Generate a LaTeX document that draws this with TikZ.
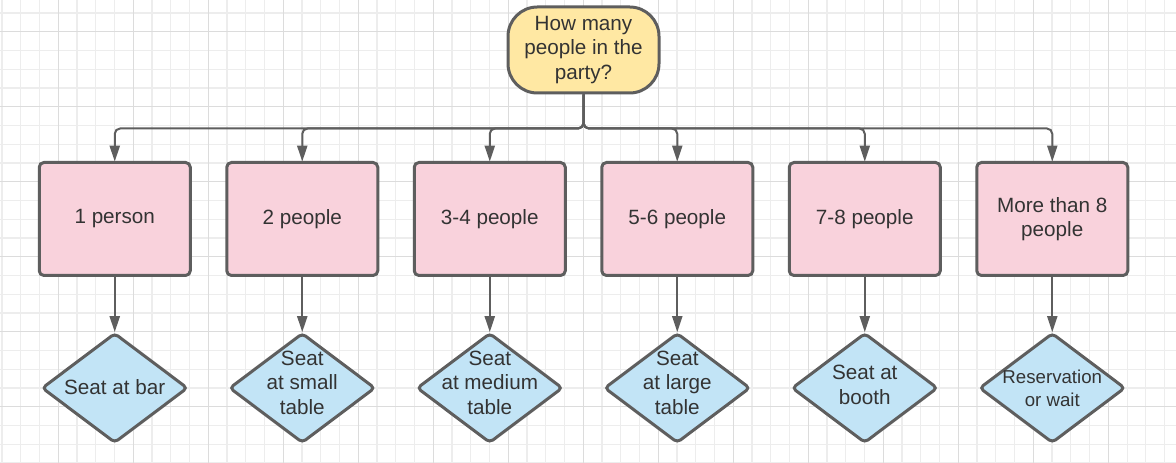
\documentclass[tikz,border=0pt]{standalone}
\usepackage{fontspec}
\setmainfont{Liberation Sans}
\usetikzlibrary{shapes.geometric,arrows.meta}
\definecolor{linegray}{HTML}{5E5E5E}
\definecolor{textgray}{HTML}{333333}
\definecolor{askfill}{HTML}{FFE8A3}
\definecolor{groupfill}{HTML}{F9D2DC}
\definecolor{seatfill}{HTML}{C2E4F6}
\definecolor{gridminor}{HTML}{EDEDED}
\definecolor{gridmajor}{HTML}{DCDCDC}
\begin{document}
\begin{tikzpicture}[x=0.75pt,y=0.75pt,
        font=\fontsize{15.5}{18.5}\selectfont,
        ask/.style={rectangle,draw=linegray,line width=2.25pt,fill=askfill,text=textgray,align=center,
            rounded corners=22pt,minimum width=113.25pt,minimum height=64.5pt,inner sep=0pt},
        group/.style={rectangle,draw=linegray,line width=2.25pt,fill=groupfill,text=textgray,align=center,
            rounded corners=3.5pt,minimum width=113.25pt,minimum height=84.75pt,inner sep=0pt},
        seat/.style={diamond,draw=linegray,line width=2.25pt,fill=seatfill,
            rounded corners=3pt,minimum width=109.5pt,minimum height=82.5pt,inner sep=0pt},
        seattext/.style={text=textgray,align=center,inner sep=0pt},
        level distance=126.75pt,
        level 1/.style={sibling distance=140.625pt,
            edge from parent path={(\tikzparentnode.south) -- ++(0,-25.5pt) -| (\tikzchildnode.north)}},
        level 2/.style={edge from parent path={(\tikzparentnode.south) -- (\tikzchildnode.north)}},
        edge from parent/.style={draw=linegray,line width=1.5pt,rounded corners=4pt,shorten >=-0.5pt,
            -{Triangle[length=12pt,width=7.5pt]}}]
        \useasboundingbox (0,0) rectangle (1176,463);
        % grid paper
        \begin{scope}
        \clip (0,0) rectangle (1176,463);
        \fill[white] (0,0) rectangle (1176,463);
        \foreach \gx in {0,...,62}
            \draw[gridminor,line width=0.9pt] ({2.08+18.75*\gx},0) -- ++(0,463);
        \foreach \gy in {0,...,25}
            \draw[gridminor,line width=0.9pt] (0,{450.05-18.75*\gy}) -- ++(1176,0);
        \foreach \gx in {0,...,15}
            \draw[gridmajor,line width=0.9pt] ({58.33+75*\gx},0) -- ++(0,463);
        \foreach \gy in {0,...,6}
            \draw[gridmajor,line width=0.9pt] (0,{431.3-75*\gy}) -- ++(1176,0);
        \end{scope}
        \node[ask] (party) at (583.5,413) {How many\\people in the\\party?}
            child {node[group] (one) {1 person}
                child {node[seat,label={[seattext,yshift=1pt]center:Seat at bar}] (bar) {}}
            }
            child {node[group] (two) {2 people}
                child {node[seat,label={[seattext,yshift=4pt]center:{Seat\\at small\\table}}] (small) {}}
            }
            child {node[group] (three) {3-4 people}
                child {node[seat,label={[seattext,yshift=4pt]center:{Seat\\at medium\\table}}] (medium) {}}
            }
            child {node[group] (five) {5-6 people}
                child {node[seat,label={[seattext,yshift=4pt]center:{Seat\\at large\\table}}] (large) {}}
            }
            child {node[group] (seven) {7-8 people}
                child {node[seat,label={[seattext,yshift=2.5pt]center:{Seat at\\booth}}] (booth) {}}
            }
            child {node[group] (more) {More than 8\\people}
                child {node[seat,label={[seattext,font=\fontsize{14}{17}\selectfont]center:{Reservation\\or wait}}] (wait) {}}
            };
\end{tikzpicture}
\end{document}
